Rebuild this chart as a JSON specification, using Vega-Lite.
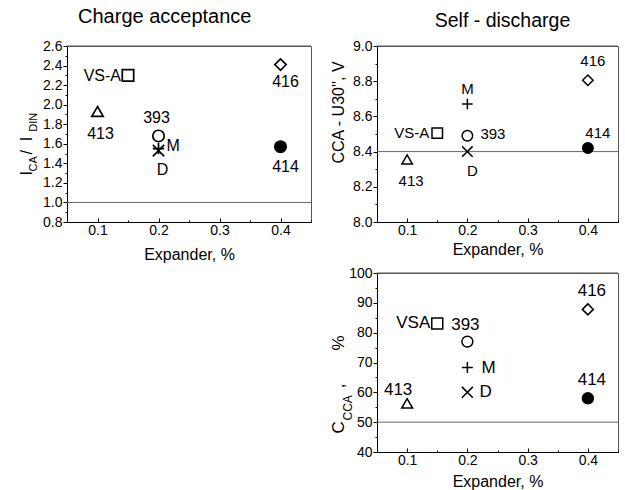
{
  "$schema": "https://vega.github.io/schema/vega-lite/v6.json",
  "padding": {"left": 17, "top": 6, "right": 0, "bottom": 0},
  "config": {
    "font": "Liberation Sans",
    "view": {"stroke": "#555", "strokeWidth": 1},
    "axis": {"domainColor": "black", "tickColor": "black", "labelColor": "black", "titleColor": "black", "grid": false, "labelFont": "Liberation Sans", "titleFont": "Liberation Sans", "labelFontSize": 14, "titleFontSize": 16, "titleFontWeight": "normal", "tickSize": 4, "domainWidth": 1, "tickWidth": 1, "labelOverlap": false},
    "title": {"fontWeight": "normal", "color": "black", "font": "Liberation Sans"},
    "text": {"font": "Liberation Sans", "color": "black", "baseline": "middle"}
  },
  "datasets": {
    "ca": [
      {"sample": "413", "x": 0.1, "y": 1.93},
      {"sample": "VS-A", "x": 0.15, "y": 2.30},
      {"sample": "393", "x": 0.2, "y": 1.68},
      {"sample": "M", "x": 0.2, "y": 1.55},
      {"sample": "D", "x": 0.2, "y": 1.53},
      {"sample": "416", "x": 0.4, "y": 2.41},
      {"sample": "414", "x": 0.4, "y": 1.57}
    ],
    "sd": [
      {"sample": "413", "x": 0.1, "y": 8.355},
      {"sample": "VS-A", "x": 0.15, "y": 8.505},
      {"sample": "M", "x": 0.2, "y": 8.67},
      {"sample": "393", "x": 0.2, "y": 8.49},
      {"sample": "D", "x": 0.2, "y": 8.40},
      {"sample": "416", "x": 0.4, "y": 8.805},
      {"sample": "414", "x": 0.4, "y": 8.42}
    ],
    "cc": [
      {"sample": "413", "x": 0.1, "y": 56.3},
      {"sample": "VSA", "x": 0.15, "y": 83.1},
      {"sample": "393", "x": 0.2, "y": 77},
      {"sample": "M", "x": 0.2, "y": 68.3},
      {"sample": "D", "x": 0.2, "y": 60},
      {"sample": "416", "x": 0.4, "y": 87.8},
      {"sample": "414", "x": 0.4, "y": 58}
    ]
  },
  "spacing": 16,
  "hconcat": [
    {
      "width": 244, "height": 176,
      "title": {"text": "Charge acceptance", "fontSize": 20, "frame": "bounds", "anchor": "middle", "offset": 12},
      "resolve": {"axis": {"y": "independent", "x": "independent"}},
      "layer": [
        {"data": {"values": [{}]}, "mark": {"type": "rule", "color": "#666", "strokeWidth": 1},
         "encoding": {"y": {"datum": 1.0, "type": "quantitative", "scale": {"domain": [0.8, 2.6], "nice": false, "zero": false}, "axis": null}}},
        {"data": {"values": [{}]}, "mark": {"type": "rule", "color": "#555", "strokeWidth": 1},
         "encoding": {"y": {"datum": 2.6, "type": "quantitative", "scale": {"domain": [0.8, 2.6], "nice": false, "zero": false},
           "axis": {"orient": "left", "labels": false, "ticks": true, "tickSize": 2, "values": [0.9, 1.1, 1.3, 1.5, 1.7, 1.9, 2.1, 2.3, 2.5], "domain": false, "title": "CA\u00a0\u00a0\u00a0\u00a0\u00a0\u00a0\u00a0\u00a0DIN", "titleFontSize": 11, "titleAngle": -90, "titleX": -31, "titleY": 125, "titleAlign": "left", "titleBaseline": "alphabetic"}}}},
        {"data": {"name": "ca"}, "mark": {"type": "point", "filled": true, "stroke": "black", "strokeWidth": 1.7, "size": 130, "opacity": 1},
         "encoding": {
           "x": {"field": "x", "type": "quantitative", "scale": {"domain": [0.05, 0.45], "nice": false, "zero": false},
             "axis": {"values": [0.1, 0.2, 0.3, 0.4], "format": ".1f", "tickSize": -4, "labelPadding": 5, "title": "Expander, %", "titlePadding": 9}},
           "y": {"field": "y", "type": "quantitative", "scale": {"domain": [0.8, 2.6], "nice": false, "zero": false},
             "axis": {"orient": "left", "values": [0.8, 1.0, 1.2, 1.4, 1.6, 1.8, 2.0, 2.2, 2.4, 2.6], "format": ".1f", "labelPadding": 1, "title": "I\u00a0\u00a0\u00a0\u2009/\u00a0\u00a0I", "titleFontSize": 16, "titleAngle": -90, "titleX": -36, "titleY": 129, "titleAlign": "left", "titleBaseline": "alphabetic"}},
           "shape": {"field": "sample", "type": "nominal", "legend": null, "scale": {"domain": ["413", "VS-A", "VSA", "393", "M", "D", "416", "414"], "range": ["triangle-up", "square", "square", "circle", "M-1,0H1M0,-1V1", "M-1,-1L1,1M-1,1L1,-1", "diamond", "circle"]}},
           "fill": {"condition": {"test": "datum.sample === '414'", "value": "black"}, "value": "transparent"}
         }},
        {"data": {"name": "ca"}, "transform": [{"filter": "datum.sample === '413'"}], "mark": {"type": "text", "fontSize": 16, "dx": 3, "dy": 22},
         "encoding": {"x": {"field": "x", "type": "quantitative", "scale": {"domain": [0.05, 0.45], "nice": false, "zero": false}, "axis": {"orient": "bottom", "values": [0.05, 0.15, 0.25, 0.35, 0.45], "labels": false, "domain": false, "tickSize": -2, "title": null}}, "y": {"field": "y", "type": "quantitative", "scale": {"domain": [0.8, 2.6], "nice": false, "zero": false}, "axis": null}, "text": {"field": "sample"}}},
        {"data": {"name": "ca"}, "transform": [{"filter": "datum.sample === 'VS-A'"}], "mark": {"type": "text", "fontSize": 16, "dx": -7, "dy": 1, "align": "right"},
         "encoding": {"x": {"field": "x", "type": "quantitative", "scale": {"domain": [0.05, 0.45], "nice": false, "zero": false}, "axis": null}, "y": {"field": "y", "type": "quantitative", "scale": {"domain": [0.8, 2.6], "nice": false, "zero": false}, "axis": null}, "text": {"field": "sample"}}},
        {"data": {"name": "ca"}, "transform": [{"filter": "datum.sample === '393'"}], "mark": {"type": "text", "fontSize": 16, "dx": -2, "dy": -18},
         "encoding": {"x": {"field": "x", "type": "quantitative", "scale": {"domain": [0.05, 0.45], "nice": false, "zero": false}, "axis": null}, "y": {"field": "y", "type": "quantitative", "scale": {"domain": [0.8, 2.6], "nice": false, "zero": false}, "axis": null}, "text": {"field": "sample"}}},
        {"data": {"name": "ca"}, "transform": [{"filter": "datum.sample === 'M'"}], "mark": {"type": "text", "fontSize": 16, "dx": 8, "dy": -3, "align": "left"},
         "encoding": {"x": {"field": "x", "type": "quantitative", "scale": {"domain": [0.05, 0.45], "nice": false, "zero": false}, "axis": null}, "y": {"field": "y", "type": "quantitative", "scale": {"domain": [0.8, 2.6], "nice": false, "zero": false}, "axis": null}, "text": {"field": "sample"}}},
        {"data": {"name": "ca"}, "transform": [{"filter": "datum.sample === 'D'"}], "mark": {"type": "text", "fontSize": 16, "dx": 4, "dy": 19},
         "encoding": {"x": {"field": "x", "type": "quantitative", "scale": {"domain": [0.05, 0.45], "nice": false, "zero": false}, "axis": null}, "y": {"field": "y", "type": "quantitative", "scale": {"domain": [0.8, 2.6], "nice": false, "zero": false}, "axis": null}, "text": {"field": "sample"}}},
        {"data": {"name": "ca"}, "transform": [{"filter": "datum.sample === '416'"}], "mark": {"type": "text", "fontSize": 16, "dx": 5, "dy": 17},
         "encoding": {"x": {"field": "x", "type": "quantitative", "scale": {"domain": [0.05, 0.45], "nice": false, "zero": false}, "axis": null}, "y": {"field": "y", "type": "quantitative", "scale": {"domain": [0.8, 2.6], "nice": false, "zero": false}, "axis": null}, "text": {"field": "sample"}}},
        {"data": {"name": "ca"}, "transform": [{"filter": "datum.sample === '414'"}], "mark": {"type": "text", "fontSize": 16, "dx": 5, "dy": 20},
         "encoding": {"x": {"field": "x", "type": "quantitative", "scale": {"domain": [0.05, 0.45], "nice": false, "zero": false}, "axis": null}, "y": {"field": "y", "type": "quantitative", "scale": {"domain": [0.8, 2.6], "nice": false, "zero": false}, "axis": null}, "text": {"field": "sample"}}}
      ]
    },
    {
      "spacing": 7,
      "vconcat": [
        {
          "width": 241, "height": 176,
          "title": {"text": "Self - discharge", "fontSize": 19.5, "frame": "group", "anchor": "middle", "offset": 8, "dx": 5},
          "resolve": {"axis": {"y": "independent", "x": "independent"}},
          "layer": [
            {"data": {"values": [{}]}, "mark": {"type": "rule", "color": "#666", "strokeWidth": 1},
             "encoding": {"y": {"datum": 8.4, "type": "quantitative", "scale": {"domain": [8.0, 9.0], "nice": false, "zero": false}, "axis": null}}},
            {"data": {"values": [{}]}, "mark": {"type": "rule", "color": "#555", "strokeWidth": 1},
             "encoding": {"y": {"datum": 9.0, "type": "quantitative", "scale": {"domain": [8.0, 9.0], "nice": false, "zero": false},
               "axis": {"orient": "left", "labels": false, "ticks": true, "tickSize": 2, "values": [8.1, 8.3, 8.5, 8.7, 8.9], "domain": false, "title": null}}}},
            {"data": {"name": "sd"}, "mark": {"type": "point", "filled": true, "stroke": "black", "strokeWidth": 1.5, "size": 110, "opacity": 1},
             "encoding": {
               "x": {"field": "x", "type": "quantitative", "scale": {"domain": [0.05, 0.45], "nice": false, "zero": false},
                 "axis": {"values": [0.1, 0.2, 0.3, 0.4], "format": ".1f", "tickSize": -4, "labelPadding": 5, "title": "Expander, %", "titlePadding": 4}},
               "y": {"field": "y", "type": "quantitative", "scale": {"domain": [8.0, 9.0], "nice": false, "zero": false},
                 "axis": {"orient": "left", "values": [8.0, 8.2, 8.4, 8.6, 8.8, 9.0], "format": ".1f", "labelPadding": 1, "title": "CCA - U30'', V", "titleAngle": -90, "titleX": -34, "titleY": 117, "titleAlign": "left", "titleBaseline": "alphabetic"}},
               "shape": {"field": "sample", "type": "nominal", "legend": null, "scale": {"domain": ["413", "VS-A", "VSA", "393", "M", "D", "416", "414"], "range": ["triangle-up", "square", "square", "circle", "M-1,0H1M0,-1V1", "M-1,-1L1,1M-1,1L1,-1", "diamond", "circle"]}},
               "fill": {"condition": {"test": "datum.sample === '414'", "value": "black"}, "value": "transparent"}
             }},
            {"data": {"name": "sd"}, "transform": [{"filter": "datum.sample === '413'"}], "mark": {"type": "text", "fontSize": 15, "dx": 4, "dy": 21},
             "encoding": {"x": {"field": "x", "type": "quantitative", "scale": {"domain": [0.05, 0.45], "nice": false, "zero": false}, "axis": {"orient": "bottom", "values": [0.05, 0.15, 0.25, 0.35, 0.45], "labels": false, "domain": false, "tickSize": -2, "title": null}}, "y": {"field": "y", "type": "quantitative", "scale": {"domain": [8.0, 9.0], "nice": false, "zero": false}, "axis": null}, "text": {"field": "sample"}}},
            {"data": {"name": "sd"}, "transform": [{"filter": "datum.sample === 'VS-A'"}], "mark": {"type": "text", "fontSize": 15, "dx": -8, "dy": 0, "align": "right"},
             "encoding": {"x": {"field": "x", "type": "quantitative", "scale": {"domain": [0.05, 0.45], "nice": false, "zero": false}, "axis": null}, "y": {"field": "y", "type": "quantitative", "scale": {"domain": [8.0, 9.0], "nice": false, "zero": false}, "axis": null}, "text": {"field": "sample"}}},
            {"data": {"name": "sd"}, "transform": [{"filter": "datum.sample === 'M'"}], "mark": {"type": "text", "fontSize": 15, "dx": 0, "dy": -15},
             "encoding": {"x": {"field": "x", "type": "quantitative", "scale": {"domain": [0.05, 0.45], "nice": false, "zero": false}, "axis": null}, "y": {"field": "y", "type": "quantitative", "scale": {"domain": [8.0, 9.0], "nice": false, "zero": false}, "axis": null}, "text": {"field": "sample"}}},
            {"data": {"name": "sd"}, "transform": [{"filter": "datum.sample === '393'"}], "mark": {"type": "text", "fontSize": 15, "dx": 13, "dy": -2, "align": "left"},
             "encoding": {"x": {"field": "x", "type": "quantitative", "scale": {"domain": [0.05, 0.45], "nice": false, "zero": false}, "axis": null}, "y": {"field": "y", "type": "quantitative", "scale": {"domain": [8.0, 9.0], "nice": false, "zero": false}, "axis": null}, "text": {"field": "sample"}}},
            {"data": {"name": "sd"}, "transform": [{"filter": "datum.sample === 'D'"}], "mark": {"type": "text", "fontSize": 15, "dx": 5, "dy": 19},
             "encoding": {"x": {"field": "x", "type": "quantitative", "scale": {"domain": [0.05, 0.45], "nice": false, "zero": false}, "axis": null}, "y": {"field": "y", "type": "quantitative", "scale": {"domain": [8.0, 9.0], "nice": false, "zero": false}, "axis": null}, "text": {"field": "sample"}}},
            {"data": {"name": "sd"}, "transform": [{"filter": "datum.sample === '416'"}], "mark": {"type": "text", "fontSize": 15, "dx": 5, "dy": -19},
             "encoding": {"x": {"field": "x", "type": "quantitative", "scale": {"domain": [0.05, 0.45], "nice": false, "zero": false}, "axis": null}, "y": {"field": "y", "type": "quantitative", "scale": {"domain": [8.0, 9.0], "nice": false, "zero": false}, "axis": null}, "text": {"field": "sample"}}},
            {"data": {"name": "sd"}, "transform": [{"filter": "datum.sample === '414'"}], "mark": {"type": "text", "fontSize": 15, "dx": 10, "dy": -15},
             "encoding": {"x": {"field": "x", "type": "quantitative", "scale": {"domain": [0.05, 0.45], "nice": false, "zero": false}, "axis": null}, "y": {"field": "y", "type": "quantitative", "scale": {"domain": [8.0, 9.0], "nice": false, "zero": false}, "axis": null}, "text": {"field": "sample"}}}
          ]
        },
        {
          "width": 241, "height": 179,
          "resolve": {"axis": {"y": "independent", "x": "independent"}},
          "layer": [
            {"data": {"values": [{}]}, "mark": {"type": "rule", "color": "#666", "strokeWidth": 1},
             "encoding": {"y": {"datum": 50, "type": "quantitative", "scale": {"domain": [40, 100], "nice": false, "zero": false}, "axis": null}}},
            {"data": {"values": [{}]}, "mark": {"type": "rule", "color": "#555", "strokeWidth": 1},
             "encoding": {"y": {"datum": 100, "type": "quantitative", "scale": {"domain": [40, 100], "nice": false, "zero": false},
               "axis": {"orient": "left", "labels": false, "ticks": true, "tickSize": 2, "values": [45, 55, 65, 75, 85, 95], "domain": false, "title": "CCA", "titleFontSize": 12, "titleAngle": -90, "titleX": -26, "titleY": 147, "titleAlign": "left", "titleBaseline": "alphabetic"}}}},
            {"data": {"name": "cc"}, "mark": {"type": "point", "filled": true, "stroke": "black", "strokeWidth": 1.5, "size": 120, "opacity": 1},
             "encoding": {
               "x": {"field": "x", "type": "quantitative", "scale": {"domain": [0.05, 0.45], "nice": false, "zero": false},
                 "axis": {"values": [0.1, 0.2, 0.3, 0.4], "format": ".1f", "tickSize": -4, "labelPadding": 5, "title": "Expander, %", "titlePadding": 6}},
               "y": {"field": "y", "type": "quantitative", "scale": {"domain": [40, 100], "nice": false, "zero": false},
                 "axis": {"orient": "left", "values": [40, 50, 60, 70, 80, 90, 100], "labelPadding": 1, "title": "C\u00a0\u00a0\u00a0\u00a0\u00a0\u00a0\u00a0,\u00a0\u00a0\u00a0\u00a0\u00a0\u00a0\u00a0%", "titleFontSize": 17, "titleAngle": -90, "titleX": -34, "titleY": 160, "titleAlign": "left", "titleBaseline": "alphabetic"}},
               "shape": {"field": "sample", "type": "nominal", "legend": null, "scale": {"domain": ["413", "VS-A", "VSA", "393", "M", "D", "416", "414"], "range": ["triangle-up", "square", "square", "circle", "M-1,0H1M0,-1V1", "M-1,-1L1,1M-1,1L1,-1", "diamond", "circle"]}},
               "fill": {"condition": {"test": "datum.sample === '414'", "value": "black"}, "value": "transparent"}
             }},
            {"data": {"name": "cc"}, "transform": [{"filter": "datum.sample === '413'"}], "mark": {"type": "text", "fontSize": 17, "dx": -9, "dy": -13},
             "encoding": {"x": {"field": "x", "type": "quantitative", "scale": {"domain": [0.05, 0.45], "nice": false, "zero": false}, "axis": {"orient": "bottom", "values": [0.05, 0.15, 0.25, 0.35, 0.45], "labels": false, "domain": false, "tickSize": -2, "title": null}}, "y": {"field": "y", "type": "quantitative", "scale": {"domain": [40, 100], "nice": false, "zero": false}, "axis": null}, "text": {"field": "sample"}}},
            {"data": {"name": "cc"}, "transform": [{"filter": "datum.sample === 'VSA'"}], "mark": {"type": "text", "fontSize": 17, "dx": -7, "dy": 0, "align": "right"},
             "encoding": {"x": {"field": "x", "type": "quantitative", "scale": {"domain": [0.05, 0.45], "nice": false, "zero": false}, "axis": null}, "y": {"field": "y", "type": "quantitative", "scale": {"domain": [40, 100], "nice": false, "zero": false}, "axis": null}, "text": {"field": "sample"}}},
            {"data": {"name": "cc"}, "transform": [{"filter": "datum.sample === '393'"}], "mark": {"type": "text", "fontSize": 17, "dx": -2, "dy": -17},
             "encoding": {"x": {"field": "x", "type": "quantitative", "scale": {"domain": [0.05, 0.45], "nice": false, "zero": false}, "axis": null}, "y": {"field": "y", "type": "quantitative", "scale": {"domain": [40, 100], "nice": false, "zero": false}, "axis": null}, "text": {"field": "sample"}}},
            {"data": {"name": "cc"}, "transform": [{"filter": "datum.sample === 'M'"}], "mark": {"type": "text", "fontSize": 17, "dx": 14, "dy": 0, "align": "left"},
             "encoding": {"x": {"field": "x", "type": "quantitative", "scale": {"domain": [0.05, 0.45], "nice": false, "zero": false}, "axis": null}, "y": {"field": "y", "type": "quantitative", "scale": {"domain": [40, 100], "nice": false, "zero": false}, "axis": null}, "text": {"field": "sample"}}},
            {"data": {"name": "cc"}, "transform": [{"filter": "datum.sample === 'D'"}], "mark": {"type": "text", "fontSize": 17, "dx": 12, "dy": 0, "align": "left"},
             "encoding": {"x": {"field": "x", "type": "quantitative", "scale": {"domain": [0.05, 0.45], "nice": false, "zero": false}, "axis": null}, "y": {"field": "y", "type": "quantitative", "scale": {"domain": [40, 100], "nice": false, "zero": false}, "axis": null}, "text": {"field": "sample"}}},
            {"data": {"name": "cc"}, "transform": [{"filter": "datum.sample === '416'"}], "mark": {"type": "text", "fontSize": 17, "dx": 4, "dy": -18},
             "encoding": {"x": {"field": "x", "type": "quantitative", "scale": {"domain": [0.05, 0.45], "nice": false, "zero": false}, "axis": null}, "y": {"field": "y", "type": "quantitative", "scale": {"domain": [40, 100], "nice": false, "zero": false}, "axis": null}, "text": {"field": "sample"}}},
            {"data": {"name": "cc"}, "transform": [{"filter": "datum.sample === '414'"}], "mark": {"type": "text", "fontSize": 17, "dx": 4, "dy": -18},
             "encoding": {"x": {"field": "x", "type": "quantitative", "scale": {"domain": [0.05, 0.45], "nice": false, "zero": false}, "axis": null}, "y": {"field": "y", "type": "quantitative", "scale": {"domain": [40, 100], "nice": false, "zero": false}, "axis": null}, "text": {"field": "sample"}}}
          ]
        }
      ]
    }
  ]
}
